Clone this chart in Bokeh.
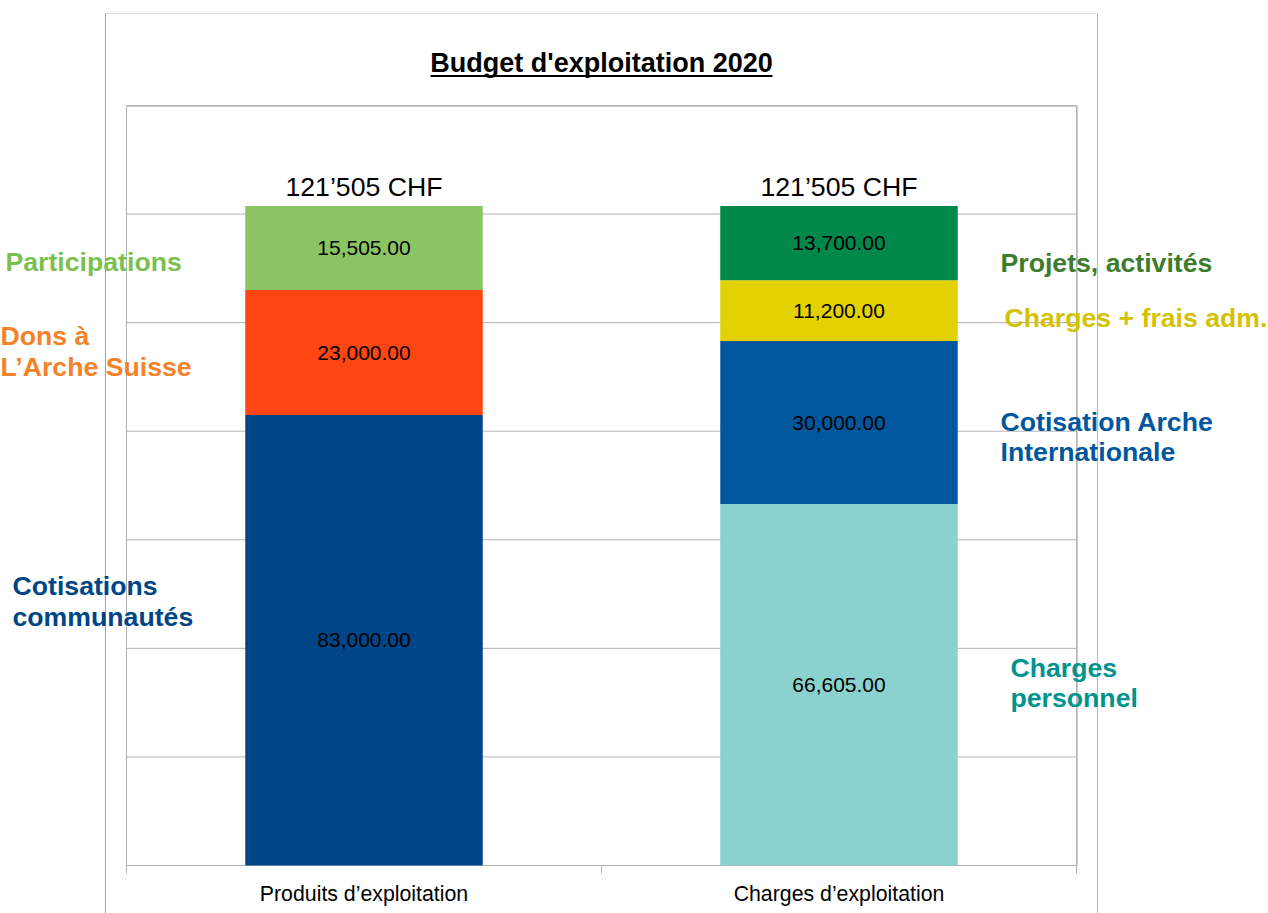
import numpy as np
from bokeh.plotting import figure
from bokeh.models import ColumnDataSource, Range1d, LinearScale
from bokeh.core.properties import value
from bokeh.embed import file_html
from bokeh.resources import INLINE

# ---------------- data ----------------
title_text = "Budget d'exploitation 2020"
categories = ["Produits d\u2019exploitation", "Charges d\u2019exploitation"]
produits_names = ["Cotisations\ncommunaut\u00e9s", "Dons \u00e0\nL\u2019Arche Suisse", "Participations"]
produits_values = [83000, 23000, 15505]
charges_names = ["Charges\npersonnel", "Cotisation Arche\nInternationale",
                 "Charges + frais adm.", "Projets, activit\u00e9s"]
charges_values = [66605, 30000, 11200, 13700]
total_labels = ["121\u2019505 CHF", "121\u2019505 CHF"]
y_max = 140000
grid_step = 20000

# ---------------- styles ----------------
FONT = "Liberation Sans"
GRID = "#b3b3b3"
produits_colors = ["#004586", "#ff4511", "#8bc563"]
charges_colors = ["#8ad1cf", "#00579e", "#e3d200", "#00874a"]
produits_label_colors = ["#004586", "#f5822a", "#7cbf4f"]
charges_label_colors = ["#00948f", "#00579e", "#d4c200", "#3b7d2b"]
# page-pixel anchors (left x, vertical centre of each line) for the side captions
produits_label_pos = [(12, [585, 616]), (0, [335.5, 366.5]), (5, [261])]
charges_label_pos = [(1010, [667.5, 697.5]), (1000, [421, 451]), (1004, [317.5]), (1000, [262])]

# layout geometry (page pixels)
OX, OY = 0, 0          # where the canvas sits on the page
W, H = 1268, 913       # canvas size
FL, FR, FT, FB = 126, 1076, 105, 865  # chart wall edges

n = len(categories)
xu = n / (FR - FL)          # category units per pixel
yu = y_max / (FB - FT)      # value units per pixel

p = figure(x_range=Range1d((OX - FL) * xu, (OX + W - FL) * xu),
           y_range=Range1d((FB - (OY + H)) * yu, (FB - OY) * yu),
           width=W, height=H, min_border=0,
           x_axis_location=None, y_axis_location=None,
           toolbar_location=None, output_backend="svg")
p.xgrid.visible = False
p.ygrid.visible = False
p.outline_line_color = None
p.background_fill_color = "white"
p.border_fill_color = "white"

p.extra_x_ranges = {"px": Range1d(OX, OX + W)}
p.extra_x_scales = {"px": LinearScale()}
p.extra_y_ranges = {"py": Range1d(OY + H, OY)}
p.extra_y_scales = {"py": LinearScale()}

# page borders
p.segment(x0=[105, 105, 1097], y0=[13, 13, 13], x1=[1097, 105, 1097], y1=[13, OY + H + 5, OY + H + 5],
          line_color=["#dbe4ee", "#8fa3c5", "#9dbcdc"], line_width=1,
          x_range_name="px", y_range_name="py")

# chart wall + horizontal grid lines
grid_vals = list(range(0, y_max + 1, grid_step))
p.segment(x0=[0] * len(grid_vals), x1=[n] * len(grid_vals), y0=grid_vals, y1=grid_vals,
          line_color=GRID, line_width=1)
p.segment(x0=[0, n], x1=[0, n], y0=[0, 0], y1=[y_max, y_max], line_color=GRID, line_width=1)
# slight shadow on top and right edges of the wall
p.segment(x0=[0, n + 1 * xu], x1=[n + 1 * xu, n + 1 * xu], y0=[y_max - 1 * yu, 0],
          y1=[y_max - 1 * yu, y_max], line_color="#cccccc", line_width=1)

# category boundary ticks
p.segment(x0=list(range(n + 1)), x1=list(range(n + 1)), y0=[0] * (n + 1),
          y1=[-8 * yu] * (n + 1), line_color=GRID, line_width=1)

# ---------------- bars ----------------
seg_x, seg_bottom, seg_top, seg_color, seg_text = [], [], [], [], []
for ci, (vals, cols) in enumerate([(produits_values, produits_colors),
                                   (charges_values, charges_colors)]):
    tops = np.cumsum(vals)
    bottoms = tops - np.array(vals)
    for v, b, t, c in zip(vals, bottoms, tops, cols):
        seg_x.append(ci + 0.5)
        seg_bottom.append(float(b))
        seg_top.append(float(t))
        seg_color.append(c)
        seg_text.append("{:,.2f}".format(v))

src = ColumnDataSource(dict(x=seg_x, bottom=seg_bottom, top=seg_top, color=seg_color,
                            mid=[(b + t) / 2 for b, t in zip(seg_bottom, seg_top)], text=seg_text))
p.vbar(x="x", bottom="bottom", top="top", width=0.5, fill_color="color",
       line_color=None, source=src)
p.text(x="x", y="mid", text="text", source=src, text_align="center", text_baseline="middle",
       text_font=value(FONT), text_font_size="21px", text_color="black")

totals = [float(sum(produits_values)), float(sum(charges_values))]
p.text(x=[i + 0.5 for i in range(n)], y=totals, text=total_labels, text_align="center",
       text_baseline="middle", y_offset=-18.5, text_font=value(FONT),
       text_font_size="26.67px", text_color="black")

# category labels under the wall
p.text(x=[i + 0.5 for i in range(n)], y=[0] * n, text=categories, text_align="center",
       text_baseline="middle", y_offset=28, text_font=value(FONT),
       text_font_size="21.3px", text_color="black")

# ---------------- title ----------------
p.text(x=[601], y=[62], text=[title_text], text_align="center", text_baseline="middle",
       text_font=value(FONT), text_font_size="27px", text_font_style="bold",
       text_color="black", x_range_name="px", y_range_name="py")
p.segment(x0=[430], x1=[772], y0=[75.5], y1=[75.5], line_color="black", line_width=2,
          x_range_name="px", y_range_name="py")

# ---------------- side captions ----------------
cap_x, cap_y, cap_t, cap_c = [], [], [], []
for names, cols, pos in [(produits_names, produits_label_colors, produits_label_pos),
                         (charges_names, charges_label_colors, charges_label_pos)]:
    for name, col, (lx, centers) in zip(names, cols, pos):
        for line, cy in zip(name.split("\n"), centers):
            cap_x.append(lx)
            cap_y.append(cy)
            cap_t.append(line)
            cap_c.append(col)
p.text(x=cap_x, y=cap_y, text=cap_t, text_color=cap_c, text_align="left",
       text_baseline="middle", text_font=value(FONT), text_font_size="26.67px",
       text_font_style="bold", x_range_name="px", y_range_name="py")

open("out.html", "w").write(file_html(p, INLINE))
